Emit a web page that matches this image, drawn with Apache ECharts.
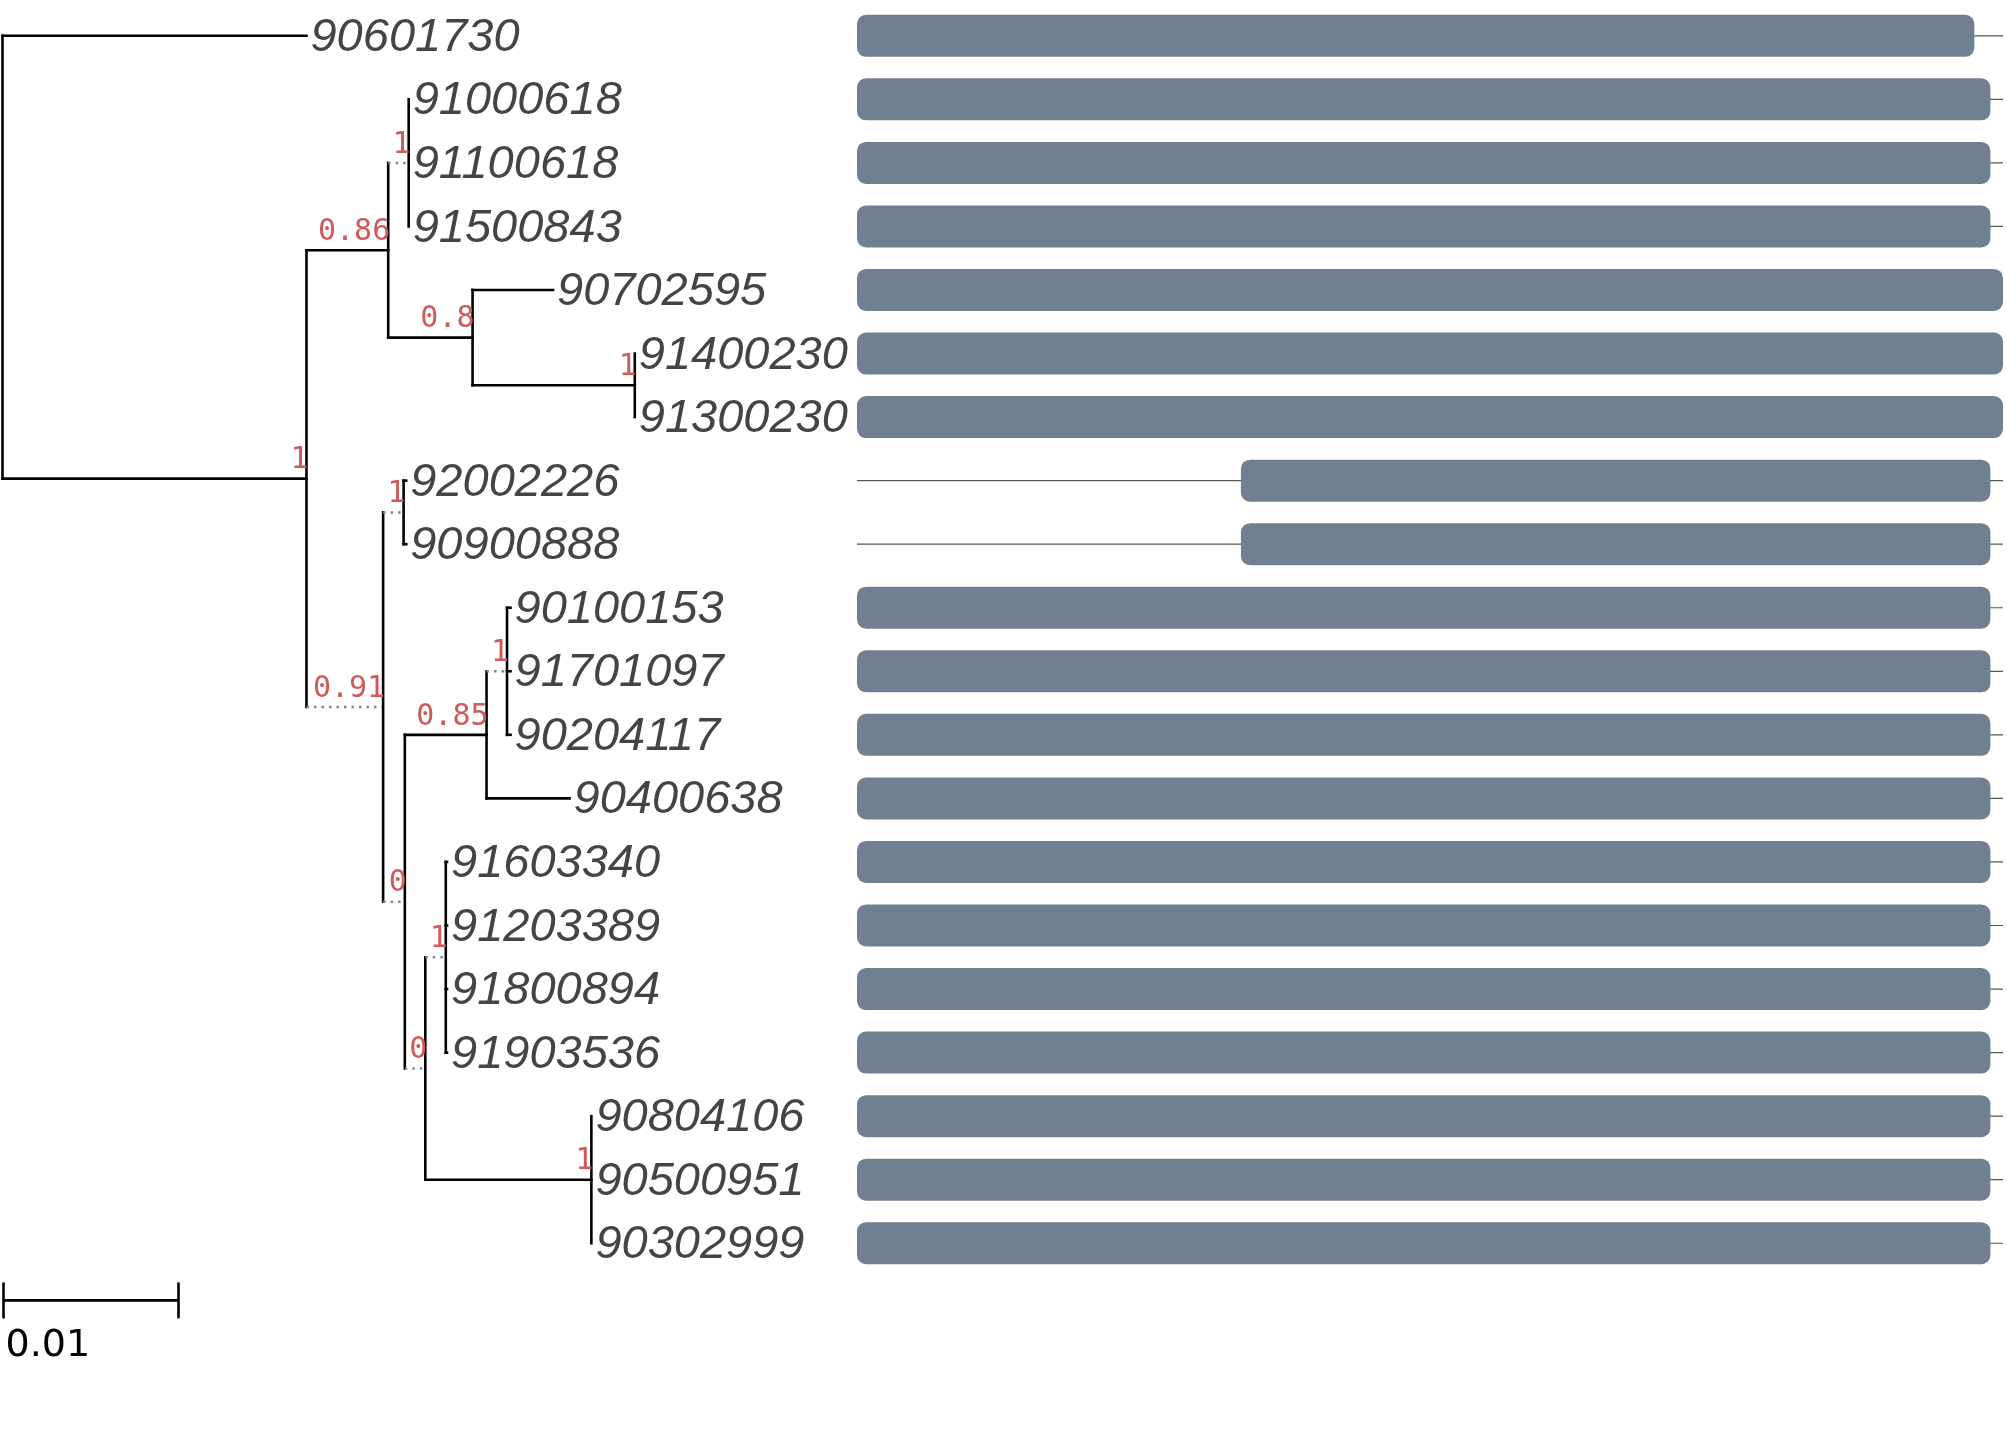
<!DOCTYPE html>
<html><head><meta charset="utf-8">
<script src="https://cdn.jsdelivr.net/npm/echarts@6/dist/echarts.min.js"></script>
<style>html,body{margin:0;padding:0;background:#fff}#c{width:2007px;height:1453px}</style>
</head><body><div id="c"></div>
<script>
const leafNames = ["90601730","91000618","91100618","91500843","90702595","91400230","91300230","92002226","90900888","90100153","91701097","90204117","90400638","91603340","91203389","91800894","91903536","90804106","90500951","90302999"];
// tree nodes: id, parent, branch length, support, dotted
const nodeIds     = ["root","L0","A","B","B1","L1","L2","L3","N08","L4","N1b","L5","L6","D","E","L7","L8","F","G","I","L9","L10","L11","L12","H","J","L13","L14","L15","L16","K","L17","L18","L19"];
const nodeParents = [null,"root","root","A","B","B1","B1","B1","B","N08","N08","N1b","N1b","A","D","E","E","D","F","G","I","I","I","G","F","H","J","J","J","J","H","K","K","K"];
const branchLen   = [0,0.01737,0.01737,0.00467,0.00117,0,0,0,0.00482,0.0046,0.00927,0,0,0.00438,0.00117,0.00015,0.00015,0.00124,0.00467,0.00117,0.0002,0.0002,0.0002,0.00474,0.00117,0.00117,0.00007,0.00007,0.00007,0.00007,0.00949,0,0,0];
const supports    = ["","","1","0.86","1","","","","0.8","","1","","","0.91","1","","","0","0.85","1","","","","","0","1","","","","","1","","",""];
const dottedFlag  = [0,0,0,0,1,0,0,0,0,0,0,0,0,1,1,0,0,1,0,1,0,0,0,0,1,1,0,0,0,0,0,0,0,0];
// domain bars: start, end, total length (relative units)
const barStart = [0,0,0,0,0,0,0,335,335,0,0,0,0,0,0,0,0,0,0,0];
const barEnd   = [975,989,989,989,1000,1000,1000,989,989,989,989,989,989,989,989,989,989,989,989,989];
const seqLen   = [1000,1000,1000,1000,1000,1000,1000,1000,1000,1000,1000,1000,1000,1000,1000,1000,1000,1000,1000,1000];
const scaleBar = 0.01;

(function(){
const N = {};
nodeIds.forEach((id,i)=>{N[id]={id,parent:nodeParents[i],len:branchLen[i],sup:supports[i],dot:dottedFlag[i],children:[]};});
nodeIds.forEach(id=>{const p=N[id].parent; if(p) N[p].children.push(N[id]);});
function lay(n,x){n.x=x+n.len;
  if(!n.children.length){n.y=+n.id.slice(1);}
  else{n.children.forEach(c=>lay(c,n.x));n.y=(n.children[0].y+n.children[n.children.length-1].y)/2;}}
lay(N.root,0);
const segs=[], supLabels=[], leafLabels=[];
nodeIds.forEach(id=>{const n=N[id];
  if(n.parent){const p=N[n.parent];segs.push([p.x,n.y,n.x,n.y,n.dot]);}
  if(n.children.length){segs.push([n.x,n.children[0].y,n.x,n.children[n.children.length-1].y,0]);}
  if(n.sup!=='') supLabels.push([n.x,n.y,n.sup]);
  if(!n.children.length) leafLabels.push([n.x,n.y,leafNames[+n.id.slice(1)]]);
});

const rowH=63.55, gTop=4, yMax=22;
const gridH=(yMax+0.5)*rowH;
const chart=echarts.init(document.getElementById('c'));
chart.setOption({
  animation:false,
  grid:[{left:2.5,top:gTop,width:854.5,height:gridH},{left:857,top:gTop,width:1146,height:gridH}],
  xAxis:[{type:'value',gridIndex:0,min:0,max:854.5/17500,show:false},{type:'value',gridIndex:1,min:0,max:1000,show:false}],
  yAxis:[{type:'value',gridIndex:0,min:-0.5,max:yMax,inverse:true,show:false},{type:'value',gridIndex:1,min:-0.5,max:yMax,inverse:true,show:false}],
  series:[
    {type:'custom',xAxisIndex:1,yAxisIndex:1,data:leafNames.map((n,i)=>[i,barStart[i],barEnd[i],seqLen[i]]),
     renderItem:(p,api)=>{const r=api.value(0);const a=api.coord([0,r]),b=api.coord([api.value(3),r]);
       const s=api.coord([api.value(1),r]),e=api.coord([api.value(2),r]);const h=42;
       return {type:'group',children:[
        {type:'line',shape:{x1:a[0],y1:a[1],x2:b[0],y2:b[1]},style:{stroke:'#555',lineWidth:1.2}},
        {type:'rect',shape:{x:s[0],y:s[1]-h/2,width:e[0]-s[0],height:h,r:9},style:{fill:'#708090'}}]};}},
    {type:'custom',data:segs,
     renderItem:(p,api)=>{const a=api.coord([api.value(0),api.value(1)]),b=api.coord([api.value(2),api.value(3)]);
       const d=api.value(4);
       return {type:'line',shape:{x1:a[0],y1:a[1],x2:b[0],y2:b[1]},
         style:d?{stroke:'#888',lineWidth:2.5,lineDash:[2.5,5]}:{stroke:'#000',lineWidth:2.6,lineCap:'square'}};}},
    {type:'custom',data:leafLabels,
     renderItem:(p,api)=>{const a=api.coord([api.value(0),api.value(1)]);
       return {type:'text',x:a[0]+4,y:a[1]+2,style:{text:leafLabels[p.dataIndex][2],
         fill:'#444',font:'italic 47px "Liberation Sans"',align:'left',verticalAlign:'middle'}};}},
    {type:'custom',data:supLabels,
     renderItem:(p,api)=>{const a=api.coord([api.value(0),api.value(1)]);
       return {type:'text',x:a[0]+2,y:a[1]-3,style:{text:supLabels[p.dataIndex][2],
         fill:'#d05a5a',font:'30px "DejaVu Sans Mono"',align:'right',verticalAlign:'bottom'}};}},
    {type:'custom',data:[[0,19.9,scaleBar]],
     renderItem:(p,api)=>{const a=api.coord([0,api.value(1)]),b=api.coord([api.value(2),api.value(1)]);
       return {type:'group',children:[
        {type:'line',shape:{x1:a[0]+1,y1:a[1],x2:b[0]+1,y2:b[1]},style:{stroke:'#000',lineWidth:2.6}},
        {type:'line',shape:{x1:a[0]+1,y1:a[1]-18,x2:a[0]+1,y2:a[1]+18},style:{stroke:'#000',lineWidth:2.6}},
        {type:'line',shape:{x1:b[0]+1,y1:b[1]-18,x2:b[0]+1,y2:b[1]+18},style:{stroke:'#000',lineWidth:2.6}},
        {type:'text',x:a[0]+3,y:a[1]+46,style:{text:String(api.value(2)),fill:'#000',font:'38px "DejaVu Sans"',align:'left',verticalAlign:'middle'}}]};}}
  ]
});
})();
</script></body></html>
